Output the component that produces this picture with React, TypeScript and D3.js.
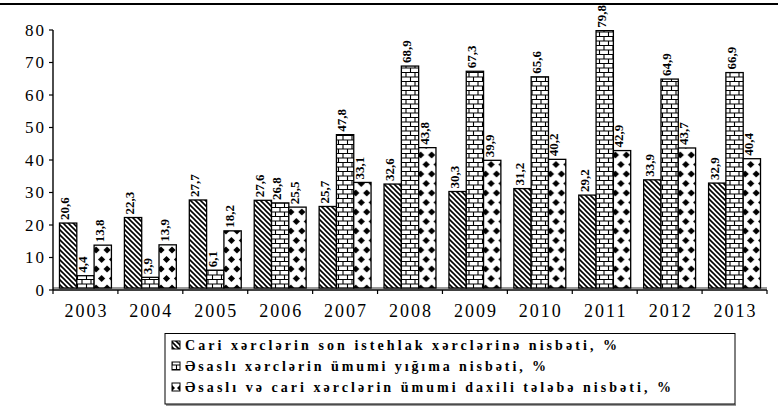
import * as d3 from "d3";

const years = ["2003", "2004", "2005", "2006", "2007", "2008", "2009", "2010", "2011", "2012", "2013"];
const currentToConsumption = [20.6, 22.3, 27.7, 27.6, 25.7, 32.6, 30.3, 31.2, 29.2, 33.9, 32.9];
const capitalToAccumulation = [4.4, 3.9, 6.1, 26.8, 47.8, 68.9, 67.3, 65.6, 79.8, 64.9, 66.9];
const totalToDemand = [13.8, 13.9, 18.2, 25.5, 33.1, 43.8, 39.9, 40.2, 42.9, 43.7, 40.4];
const seriesNames = [
  "Cari xərclərin son istehlak xərclərinə nisbəti, %",
  "Əsaslı xərclərin ümumi yığıma nisbəti, %",
  "Əsaslı və cari xərclərin ümumi daxili tələbə nisbəti, %",
];
const yTicks = [0, 10, 20, 30, 40, 50, 60, 70, 80];

const W = 779;
const H = 407;
const FONT = '"Liberation Serif", "DejaVu Serif", "Times New Roman", Times, serif';

const series = [currentToConsumption, capitalToAccumulation, totalToDemand];
const fills = ["url(#hatch)", "url(#brick)", "url(#diamond)"];
// legend text widths
const legendWidths = [432, 361, 486];

export default function App() {
  const x = d3.scaleBand().domain(years).range([53, 767]);
  const x1 = d3
    .scaleBand<string>()
    .domain(["0", "1", "2"])
    .range([0, x.bandwidth()])
    .paddingInner(0)
    .paddingOuter(0.375);
  const y = d3.scaleLinear().domain([0, 80]).range([290, 30]);
  const floor = y(0) - 2;
  const fmt = (v: number) => v.toFixed(1).replace(".", ",");

  const bounds = years.map((yr) => x(yr)!).concat([767]);

  return (
    <svg
      width={W}
      height={H}
      style={{ position: "absolute", left: 0, top: 0, background: "#fff" }}
    >
      <defs>
        <pattern id="hatch" patternUnits="userSpaceOnUse" width={5} height={5}>
          <rect width={5} height={5} fill="#fff" />
          <path d="M0,0 L5,5 M-1,4 L1,6 M4,-1 L6,1" stroke="#000" strokeWidth={1.6} />
        </pattern>
        <pattern id="brick" patternUnits="userSpaceOnUse" width={9} height={9}>
          <rect width={9} height={9} fill="#fff" />
          <path
            d="M0,0.5 H9 M0,5 H9 M1,0.5 V5 M5.5,5 V9.5"
            stroke="#000"
            strokeWidth={1.1}
            fill="none"
          />
        </pattern>
        {series[2].map((_, i) => (
          <pattern
            key={i}
            id={`dia-${i}`}
            patternUnits="userSpaceOnUse"
            x={x(years[i])! + x1("2")! + 2}
            y={floor}
            width={11}
            height={19}
          >
            <rect width={11} height={19} fill="#fff" />
            <path
              d="M0,-3.6 L3.6,0 L0,3.6 L-3.6,0 Z M11,-3.6 L14.6,0 L11,3.6 L7.4,0 Z M5.5,5.9 L9.1,9.5 L5.5,13.1 L1.9,9.5 Z M0,15.4 L3.6,19 L0,22.6 L-3.6,19 Z M11,15.4 L14.6,19 L11,22.6 L7.4,19 Z"
              fill="#000"
            />
          </pattern>
        ))}
        <pattern id="diamond" patternUnits="userSpaceOnUse" width={8} height={8}>
          <rect width={8} height={8} fill="#fff" />
          <path d="M4,1 L7,4 L4,7 L1,4 Z" fill="#000" />
        </pattern>
      </defs>

      <g fontFamily={FONT}>
        {/* top rule */}
        <line x1={0} x2={778} y1={4} y2={4} stroke="#000" strokeWidth={2} />

        {/* floor */}
        <line x1={53} x2={767} y1={floor} y2={floor} stroke="#000" strokeWidth={0.8} />

        {/* bars */}
        {years.map((yr, i) => (
          <g key={yr}>
            {series.map((s, k) => {
              const bx = x(yr)! + x1(String(k))!;
              const by = y(s[i]);
              return (
                <rect
                  key={k}
                  x={bx}
                  y={by}
                  width={x1.bandwidth()}
                  height={floor - by}
                  fill={k === 2 ? `url(#dia-${i})` : fills[k]}
                  stroke="#000"
                  strokeWidth={1.3}
                />
              );
            })}
            {series.map((s, k) => {
              const cx = x(yr)! + x1(String(k))! + x1.bandwidth() / 2;
              return (
                <text
                  key={"l" + k}
                  transform={`translate(${cx},${y(s[i]) - 3}) rotate(-90)`}
                  dy="0.1em"
                  fontSize={13}
                  fontWeight="bold"
                  fontFamily={FONT}
                  fill="#000"
                >
                  {fmt(s[i])}
                </text>
              );
            })}
          </g>
        ))}

        {/* y axis */}
        <line x1={53} x2={53} y1={y(80)} y2={y(0)} stroke="#000" strokeWidth={1.4} />
        {yTicks.map((t) => (
          <g key={t}>
            <line x1={49} x2={53} y1={y(t)} y2={y(t)} stroke="#000" strokeWidth={1.2} />
            <text
              x={46}
              y={y(t)}
              dy="0.35em"
              textAnchor="end"
              fontSize={17}
              letterSpacing={2}
              fontFamily={FONT}
              fill="#000"
            >
              {t}
            </text>
          </g>
        ))}

        {/* x axis */}
        <line x1={53} x2={767} y1={y(0)} y2={y(0)} stroke="#000" strokeWidth={1.6} />
        {bounds.map((b, i) => (
          <line key={i} x1={b} x2={b} y1={y(0)} y2={y(0) + 4} stroke="#000" strokeWidth={1.2} />
        ))}
        {years.map((yr) => (
          <text
            key={yr}
            x={x(yr)! + x.bandwidth() / 2 + 1}
            y={317}
            textAnchor="middle"
            fontSize={18}
            letterSpacing={2}
            fontFamily={FONT}
            fill="#000"
          >
            {yr}
          </text>
        ))}

        {/* legend */}
        <line x1={166} x2={736} y1={405} y2={405} stroke="#777" strokeWidth={1.5} />
        <rect x={165} y={333.5} width={570} height={70.5} fill="#fff" stroke="#000" strokeWidth={1} />
        {seriesNames.map((name, k) => {
          const ly = 345 + k * 21;
          return (
            <g key={name}>
              <rect
                x={172}
                y={ly - 4}
                width={8}
                height={8}
                fill={fills[k]}
                stroke="#000"
                strokeWidth={1}
              />
              <text
                x={185}
                y={ly + 5}
                fontSize={14}
                fontWeight="bold"
                fontFamily={FONT}
                textLength={legendWidths[k]}
                lengthAdjust="spacing"
                fill="#000"
              >
                {name}
              </text>
            </g>
          );
        })}
      </g>
    </svg>
  );
}
